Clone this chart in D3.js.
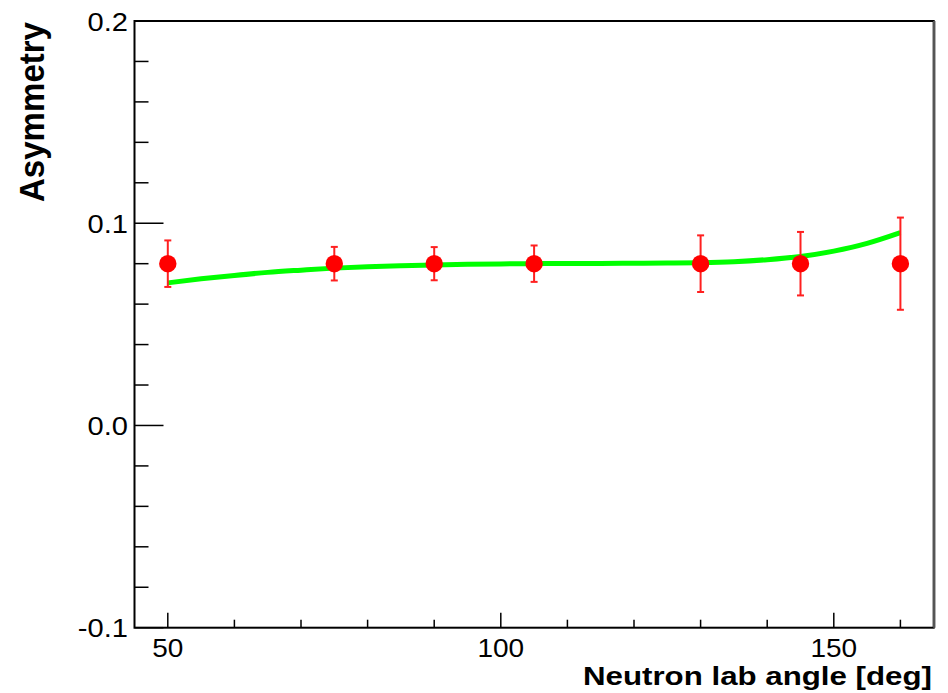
<!DOCTYPE html>
<html>
<head>
<meta charset="utf-8">
<script src="https://cdn.jsdelivr.net/npm/d3@7"></script>
<style>
  body { margin: 0; background: #fff; }
  text { font-family: "Liberation Sans", Arial, sans-serif; }
</style>
</head>
<body>
<div id="chart"></div>
<script>
const width = 948, height = 693;

// measured points
const angles = [50, 75, 90, 105, 130, 145, 160];
const asym = [0.08, 0.08, 0.08, 0.08, 0.08, 0.08, 0.08];
const asymErr = [0.0115, 0.0083, 0.0082, 0.009, 0.014, 0.0157, 0.0228];

// theory curve (green)
const curveAngles = [50, 55, 60, 65, 70, 75, 80, 85, 90, 95, 100, 105, 110, 115, 120, 125, 130, 135, 140, 145, 150, 155, 160];
const curveAsym = [0.0705, 0.0725, 0.0742, 0.0757, 0.0768, 0.0778, 0.0785, 0.079, 0.0794, 0.0797, 0.0799, 0.08, 0.0801, 0.0801, 0.0802, 0.0803, 0.0805, 0.081, 0.082, 0.0836, 0.0862, 0.09, 0.0953];

const xMajor = [50, 100, 150];
const yMajor = [-0.1, 0.0, 0.1, 0.2];

const margin = {left: 134.5, top: 21, right: 948 - 933.7, bottom: 693 - 627.7};

const svg = d3.select("#chart").append("svg")
    .attr("width", width)
    .attr("height", height);

const x = d3.scaleLinear().domain([45, 165]).range([margin.left, width - margin.right]);
const y = d3.scaleLinear().domain([-0.1, 0.2]).range([height - margin.bottom, margin.top]);

// ticks
const xMinor = d3.range(50, 161, 10).filter(v => !xMajor.includes(v));
const yMinor = d3.range(-0.1, 0.2001, 0.02).filter(v => !yMajor.some(m => Math.abs(m - v) < 1e-6));

const ticks = svg.append("g").attr("stroke", "#000").attr("stroke-width", 1.5);
xMajor.forEach(v => ticks.append("line")
    .attr("x1", x(v)).attr("x2", x(v))
    .attr("y1", y(-0.1)).attr("y2", y(-0.1) - 15));
xMinor.forEach(v => ticks.append("line")
    .attr("x1", x(v)).attr("x2", x(v))
    .attr("y1", y(-0.1)).attr("y2", y(-0.1) - 8));
yMajor.forEach(v => ticks.append("line")
    .attr("x1", x(45)).attr("x2", x(45) + 29)
    .attr("y1", y(v)).attr("y2", y(v)));
yMinor.forEach(v => ticks.append("line")
    .attr("x1", x(45)).attr("x2", x(45) + 14)
    .attr("y1", y(v)).attr("y2", y(v)));

// frame
svg.append("rect")
    .attr("x", x(45)).attr("y", y(0.2))
    .attr("width", x(165) - x(45))
    .attr("height", y(-0.1) - y(0.2))
    .attr("fill", "none")
    .attr("stroke", "#000")
    .attr("stroke-width", 2);
svg.append("line")
    .attr("x1", x(165) + 0.5).attr("x2", x(165) + 0.5)
    .attr("y1", y(0.2)).attr("y2", y(-0.1))
    .attr("stroke", "#555").attr("stroke-width", 2.5);

// tick labels
svg.append("g").selectAll("text")
    .data(xMajor)
    .join("text")
    .attr("transform", d => `translate(${x(d)},657) scale(1.12,1)`)
    .attr("text-anchor", "middle")
    .attr("font-size", 25)
    .text(d => d);

svg.append("g").selectAll("text")
    .data(yMajor)
    .join("text")
    .attr("transform", d => `translate(128,${y(d) + 9.5}) scale(1.12,1)`)
    .attr("text-anchor", "end")
    .attr("font-size", 26)
    .text(d => d.toFixed(1));

// axis titles
svg.append("text")
    .attr("x", 932).attr("y", 685)
    .attr("text-anchor", "end")
    .attr("font-size", 26)
    .attr("font-weight", "bold")
    .attr("textLength", 349)
    .attr("lengthAdjust", "spacingAndGlyphs")
    .text("Neutron lab angle [deg]");

svg.append("text")
    .attr("transform", "translate(44,22) rotate(-90)")
    .attr("text-anchor", "end")
    .attr("font-size", 35)
    .attr("font-weight", "bold")
    .attr("textLength", 180)
    .attr("lengthAdjust", "spacingAndGlyphs")
    .text("Asymmetry");

// green curve
const line = d3.line()
    .x((d, i) => x(curveAngles[i]))
    .y(d => y(d))
    .curve(d3.curveMonotoneX);

svg.append("path")
    .datum(curveAsym)
    .attr("d", line)
    .attr("fill", "none")
    .attr("stroke", "#00ff00")
    .attr("stroke-width", 5);

// error bars
const pts = angles.map((a, i) => ({a, v: asym[i], e: asymErr[i]}));
const eb = svg.append("g").attr("stroke", "#ff2020").attr("stroke-width", 2);
pts.forEach(p => {
    eb.append("line")
        .attr("x1", x(p.a)).attr("x2", x(p.a))
        .attr("y1", y(p.v + p.e)).attr("y2", y(p.v - p.e));
    [p.v + p.e, p.v - p.e].forEach(v => eb.append("line")
        .attr("x1", x(p.a) - 3.5).attr("x2", x(p.a) + 3.5)
        .attr("y1", y(v)).attr("y2", y(v)));
});

// markers
svg.append("g").selectAll("circle")
    .data(pts)
    .join("circle")
    .attr("cx", d => x(d.a))
    .attr("cy", d => y(d.v))
    .attr("r", 8.7)
    .attr("fill", "#ff0000");
</script>
</body>
</html>
